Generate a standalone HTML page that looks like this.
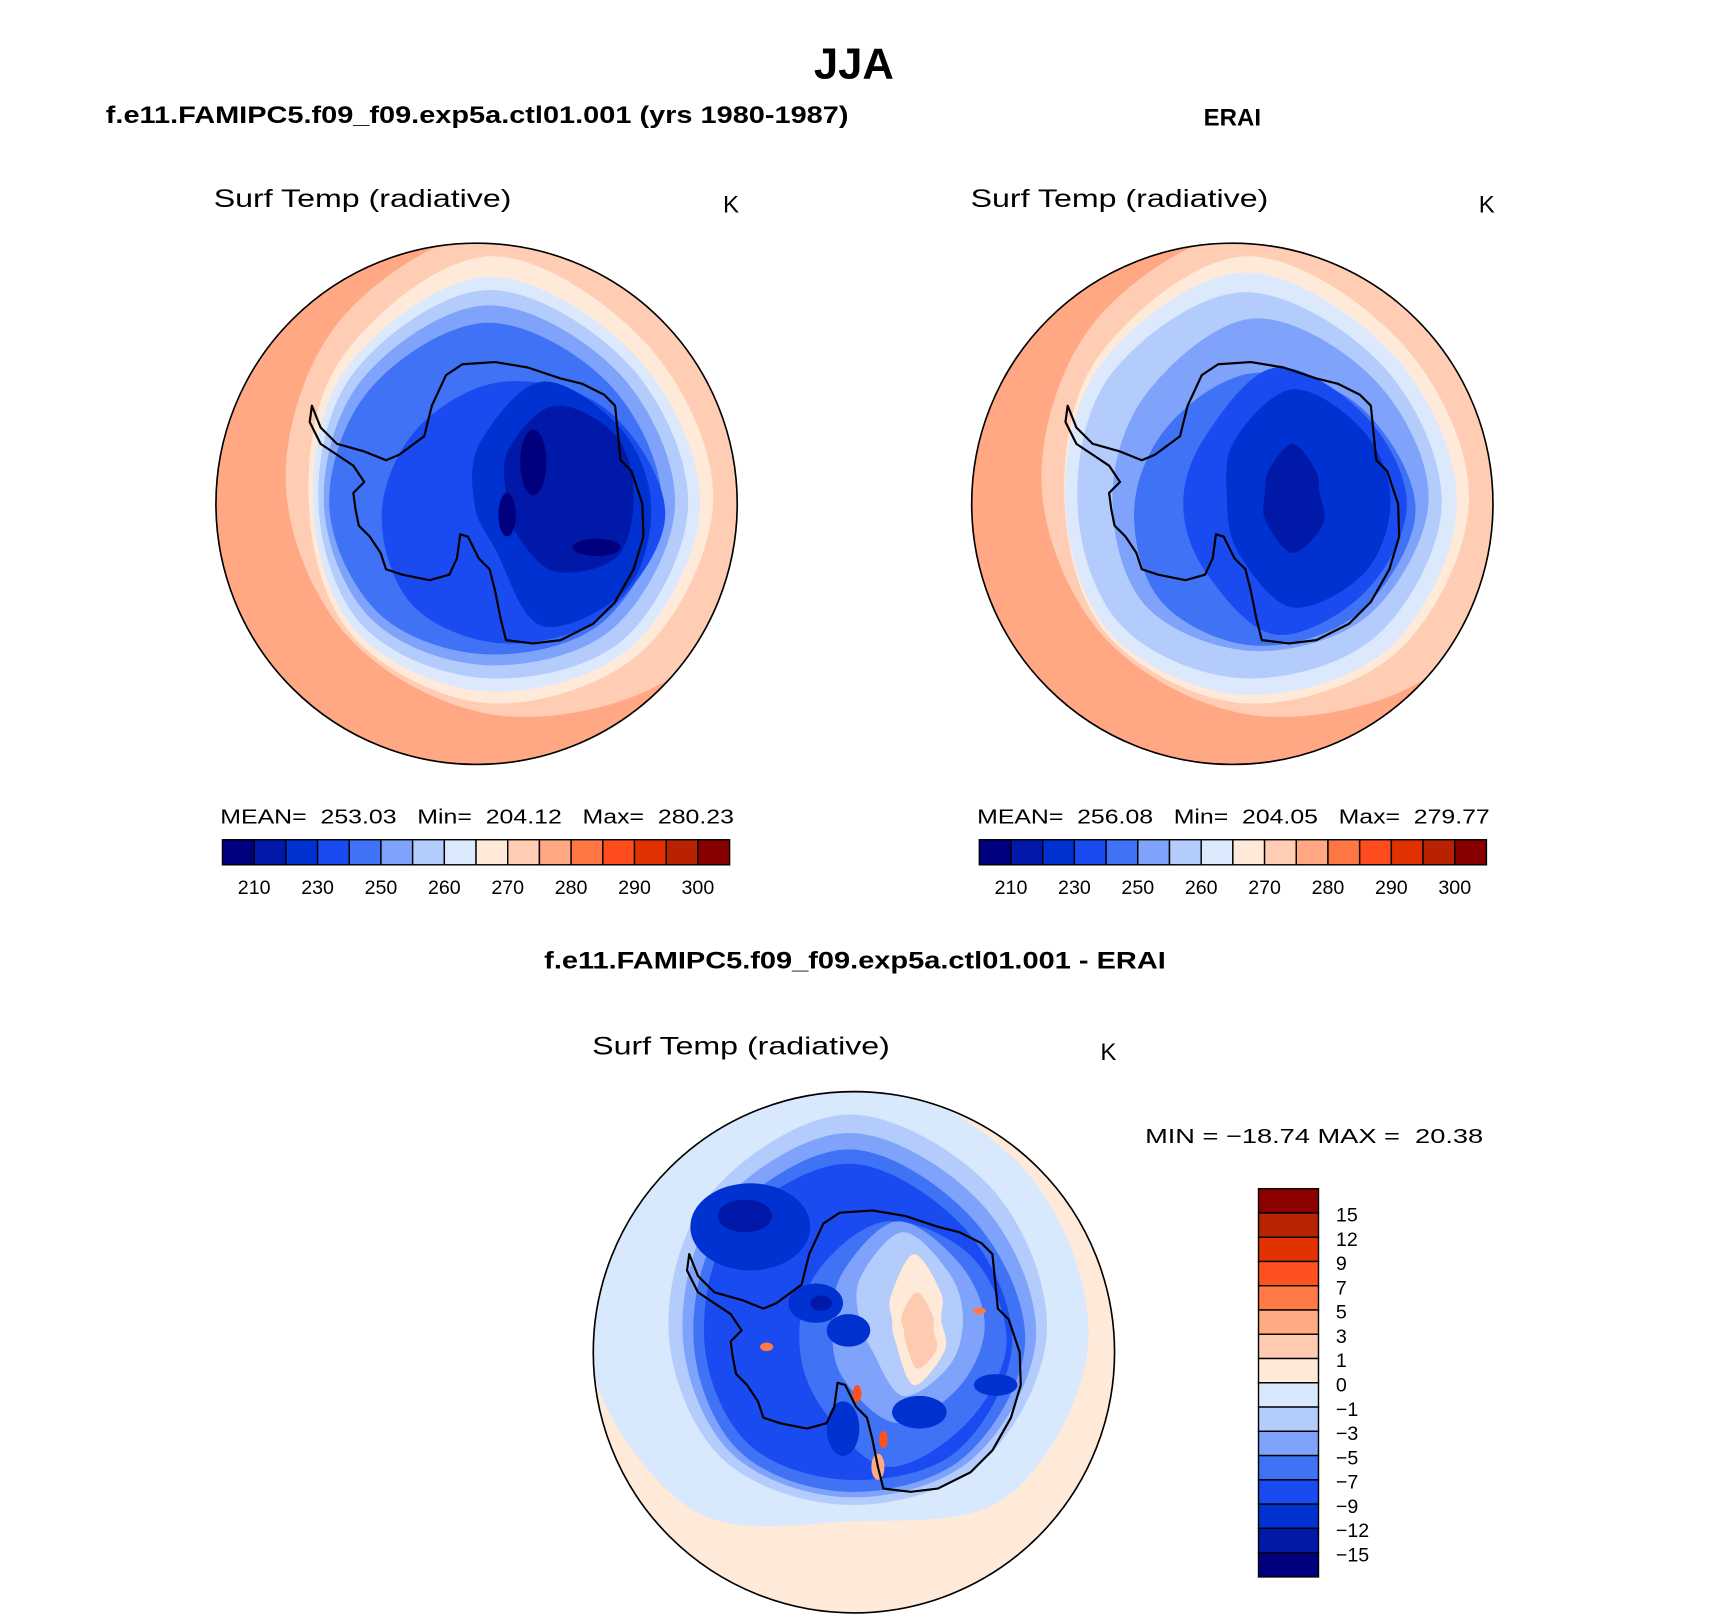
<!DOCTYPE html>
<html><head><meta charset="utf-8"><style>
html,body{margin:0;padding:0;background:#fff;}
svg{display:block;}
text{font-family:"Liberation Sans",sans-serif;white-space:pre;}
</style></head><body>
<svg id="fig" width="1710" height="1619" viewBox="0 0 1568 1484.6" preserveAspectRatio="none" xmlns="http://www.w3.org/2000/svg">
<defs>
<clipPath id="cL"><circle cx="437" cy="462" r="239"/></clipPath>
<clipPath id="cR"><circle cx="1130" cy="462" r="239"/></clipPath>
<clipPath id="cB"><circle cx="783" cy="1240" r="239"/></clipPath>
</defs>
<text x="783" y="72" font-size="40" font-weight="bold" text-anchor="middle">JJA</text>
<text x="97" y="113" font-size="22" font-weight="bold" textLength="681" lengthAdjust="spacingAndGlyphs">f.e11.FAMIPC5.f09_f09.exp5a.ctl01.001 (yrs 1980-1987)</text>
<text x="1130" y="115" font-size="22" font-weight="bold" text-anchor="middle">ERAI</text>
<text x="196" y="190" font-size="23" textLength="273" lengthAdjust="spacingAndGlyphs">Surf Temp (radiative)</text>
<text x="663" y="195" font-size="22">K</text>
<text x="890" y="190" font-size="23" textLength="273" lengthAdjust="spacingAndGlyphs">Surf Temp (radiative)</text>
<text x="1356" y="195" font-size="22">K</text>
<text x="202" y="755" font-size="19" textLength="471" lengthAdjust="spacingAndGlyphs" xml:space="preserve">MEAN=  253.03   Min=  204.12   Max=  280.23</text>
<text x="896" y="755" font-size="19" textLength="470" lengthAdjust="spacingAndGlyphs" xml:space="preserve">MEAN=  256.08   Min=  204.05   Max=  279.77</text>
<text x="784" y="888" font-size="22" font-weight="bold" text-anchor="middle" textLength="570" lengthAdjust="spacingAndGlyphs">f.e11.FAMIPC5.f09_f09.exp5a.ctl01.001 - ERAI</text>
<text x="543" y="967" font-size="23" textLength="273" lengthAdjust="spacingAndGlyphs">Surf Temp (radiative)</text>
<text x="1009" y="972" font-size="22">K</text>
<text x="1050" y="1048" font-size="19" textLength="310" lengthAdjust="spacingAndGlyphs" xml:space="preserve">MIN = −18.74 MAX =  20.38</text>
<g id="maps"></g>
<g id="bars"></g>
</svg>
<script>
const absColors=["#00007f","#0019a8","#0032d1","#1a4bf0","#3f72f5","#7fa3fa","#b3ccfb","#dce9fd","#ffe9d9","#ffcdb4","#ffa883","#ff7645","#ff4c1e","#e13100","#b82200","#880000"];
const absBoundaries=[210,220,230,240,250,255,260,265,270,275,280,285,290,295,300];
const absTickLabels=["210","230","250","260","270","280","290","300"];
const diffColors=["#00007f","#0019a8","#0032d1","#1a4bf0","#3f72f5","#7fa3fa","#b3ccfb","#d8e9fd","#ffe9d8","#ffcbb0","#ffaa80","#ff7a45","#ff5020","#e23200","#b82400","#8c0000"];
const diffTickLabels=["15","12","9","7","5","3","1","0","−1","−3","−5","−7","−9","−12","−15"];
// coastline (relative to pole)
const coast=[[-151,-90],[-143,-70],[-128,-55],[-103,-48],[-83,-40],[-71,-45],[-48,-62],[-41,-90],[-28,-118],[-13,-128],[17,-130],[47,-125],[77,-115],[97,-110],[117,-100],[127,-90],[129,-70],[132,-40],[142,-30],[152,0],[153,30],[144,60],[127,90],[107,110],[77,125],[52,128],[27,125],[22,105],[17,80],[12,60],[2,50],[-8,30],[-15,28],[-18,50],[-25,65],[-43,70],[-68,65],[-83,60],[-88,45],[-98,30],[-108,20],[-111,5],[-113,-10],[-103,-20],[-113,-35],[-128,-45],[-143,-55],[-153,-75]];
// contour layers: [colorIndex, dx, dy, radii at E,SE,S,SW,W,NW,N,NE]
const leftLayers=[
[9,30,-20,[240,235,215,205,205,215,235,240]],
[8,12,-5,[205,198,188,178,166,188,222,202]],
[7,10,0,[195,186,172,168,160,180,208,192]],
[6,10,0,[184,176,160,160,155,172,196,182]],
[5,10,0,[172,162,148,150,150,162,182,170]],
[4,10,2,[160,150,136,140,145,152,168,158]],
[3,25,10,[148,130,118,118,112,112,122,135]],
[2,60,0,[100,110,112,60,62,80,112,100]],
[1,72,-8,[72,80,70,50,45,60,82,78]]];
const leftSpots=[[0,52,-38,12,30],[0,28,10,8,20],[0,110,40,22,8]];
const rightLayers=[
[9,30,-20,[240,235,215,205,205,215,235,240]],
[8,12,-5,[205,198,188,178,166,188,222,202]],
[7,10,0,[196,188,175,170,163,183,212,194]],
[6,10,0,[182,172,160,158,152,170,194,180]],
[5,20,-5,[160,150,140,140,130,138,165,155]],
[4,20,5,[148,135,125,120,110,110,125,135]],
[3,40,0,[120,115,120,90,85,90,125,115]],
[2,55,-5,[90,95,100,70,60,75,100,90]],
[1,55,-10,[25,40,55,35,25,30,45,30]]];
const rightSpots=[];
const diffLayers=[
[7,0,-10,[215,200,165,215,245,245,240,222]],
[6,-5,-20,[182,172,160,165,165,178,198,185]],
[5,-5,-15,[172,160,148,152,152,168,186,172]],
[4,-5,-10,[162,150,138,142,142,158,176,160]],
[3,-5,-8,[150,140,125,130,132,150,165,150]],
[4,30,-10,[110,105,115,85,80,90,110,110]],
[5,40,-25,[80,80,90,70,60,70,95,80]],
[6,45,-30,[55,60,70,40,40,55,80,60]],
[8,55,-30,[25,40,60,25,20,30,60,35]],
[9,58,-20,[15,25,35,15,12,20,35,20]]];
const diffSpots=[[2,-95,-115,55,40],[1,-100,-125,25,15],[2,-35,-45,25,18],[2,-5,-20,20,15],[2,130,30,20,10],[1,-30,-45,10,7],[2,60,55,25,15],[2,-10,70,15,25],[11,-80,-5,6,4],[12,3,38,4,8],[12,27,80,4,8],[11,115,-38,6,3],[10,22,105,6,12]];

const NS='http://www.w3.org/2000/svg';
function smooth(pts){
  const n=pts.length;let d='M'+pts[0][0].toFixed(1)+','+pts[0][1].toFixed(1);
  for(let i=0;i<n;i++){
    const p0=pts[(i-1+n)%n],p1=pts[i],p2=pts[(i+1)%n],p3=pts[(i+2)%n];
    const c1=[p1[0]+(p2[0]-p0[0])/6,p1[1]+(p2[1]-p0[1])/6];
    const c2=[p2[0]-(p3[0]-p1[0])/6,p2[1]-(p3[1]-p1[1])/6];
    d+='C'+c1.map(v=>v.toFixed(1)).join(',')+' '+c2.map(v=>v.toFixed(1)).join(',')+' '+p2[0].toFixed(1)+','+p2[1].toFixed(1);
  }
  return d+'Z';
}
function drawMap(cx,cy,clip,base,baseColors,layers,spots,name){
  const g=document.createElementNS(NS,'g');
  g.setAttribute('clip-path','url(#'+clip+')');
  
  
  const bg=document.createElementNS(NS,'circle');
  bg.setAttribute('cx',cx);bg.setAttribute('cy',cy);bg.setAttribute('r',240);
  bg.setAttribute('fill',baseColors[base]);
  
  
  g.appendChild(bg);
  layers.forEach(L=>{
    const pts=L[3].map((r,i)=>{const a=i*Math.PI/4;return [cx+L[1]+r*Math.cos(a),cy+L[2]+r*Math.sin(a)];});
    const p=document.createElementNS(NS,'path');
    p.setAttribute('d',smooth(pts));p.setAttribute('fill',baseColors[L[0]]);
    
    
    g.appendChild(p);
  });
  spots.forEach(s=>{
    const e=document.createElementNS(NS,'ellipse');
    e.setAttribute('cx',cx+s[1]);e.setAttribute('cy',cy+s[2]);e.setAttribute('rx',s[3]);e.setAttribute('ry',s[4]);
    e.setAttribute('fill',baseColors[s[0]]);
    
    
    g.appendChild(e);
  });
  const c=document.createElementNS(NS,'polygon');
  c.setAttribute('points',coast.map(p=>(cx+p[0])+','+(cy+p[1])).join(' '));
  c.setAttribute('fill','none');c.setAttribute('stroke','#000');c.setAttribute('stroke-width','2');c.setAttribute('stroke-linejoin','round');
  
  
  g.appendChild(c);
  document.getElementById('maps').appendChild(g);
  const o=document.createElementNS(NS,'circle');
  o.setAttribute('cx',cx);o.setAttribute('cy',cy);o.setAttribute('r',239);
  o.setAttribute('fill','none');o.setAttribute('stroke','#000');o.setAttribute('stroke-width','1.5');
  
  
  document.getElementById('maps').appendChild(o);
}
drawMap(437,462,'cL',10,absColors,leftLayers,leftSpots,'model-map');
drawMap(1130,462,'cR',10,absColors,rightLayers,rightSpots,'erai-map');
drawMap(783,1240,'cB',8,diffColors,diffLayers,diffSpots,'difference-map');

function hbar(x0,x1,y,h,name){
  const g=document.createElementNS(NS,'g');
  
  
  const w=(x1-x0)/absColors.length;
  absColors.forEach((col,i)=>{
    const r=document.createElementNS(NS,'rect');
    r.setAttribute('x',x0+i*w);r.setAttribute('y',y);r.setAttribute('width',w);r.setAttribute('height',h);
    r.setAttribute('fill',col);r.setAttribute('stroke','#000');r.setAttribute('stroke-width','1.3');
    
    
    g.appendChild(r);
  });
  absTickLabels.forEach((lab,j)=>{
    const t=document.createElementNS(NS,'text');
    t.setAttribute('x',x0+(2*j+1)*w);t.setAttribute('y',y+h+27);
    t.setAttribute('font-size','18');t.setAttribute('text-anchor','middle');
    t.textContent=lab;
    
    
    g.appendChild(t);
  });
  document.getElementById('bars').appendChild(g);
}
hbar(204,669,770,23,'left-colorbar');
hbar(898,1363,770,23,'right-colorbar');
(function(){
  const x=1154,w=55,y0=1090,y1=1446;
  const h=(y1-y0)/diffColors.length;
  const g=document.createElementNS(NS,'g');
  
  
  diffColors.slice().reverse().forEach((col,i)=>{
    const r=document.createElementNS(NS,'rect');
    r.setAttribute('x',x);r.setAttribute('y',y0+i*h);r.setAttribute('width',w);r.setAttribute('height',h);
    r.setAttribute('fill',col);r.setAttribute('stroke','#000');r.setAttribute('stroke-width','1.3');
    
    
    g.appendChild(r);
  });
  diffTickLabels.forEach((lab,j)=>{
    const t=document.createElementNS(NS,'text');
    t.setAttribute('x',x+w+16);t.setAttribute('y',y0+(j+1)*h+8);
    t.setAttribute('font-size','18');
    t.textContent=lab;
    
    
    g.appendChild(t);
  });
  document.getElementById('bars').appendChild(g);
})();
</script>
</body></html>
